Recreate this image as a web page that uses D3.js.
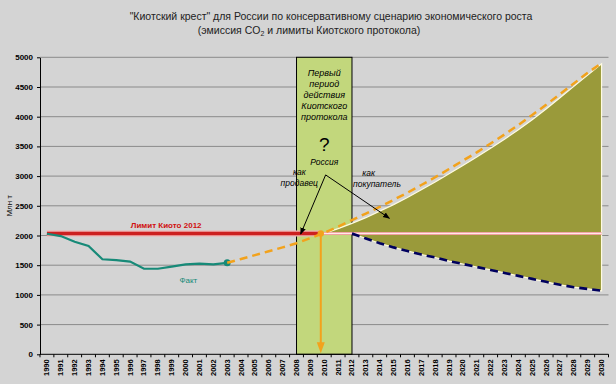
<!DOCTYPE html>
<html><head><meta charset="utf-8">
<script src="https://cdn.jsdelivr.net/npm/d3@7"></script>
<style>
html,body{margin:0;padding:0;background:#d4d4d4;}
svg{display:block;font-family:"Liberation Sans",Arial,sans-serif;}
</style></head>
<body>
<svg id="c" width="616" height="384"></svg>
<script>
// ---- data ----
const years = d3.range(1990, 2031);
const yTicks = [0,500,1000,1500,2000,2500,3000,3500,4000,4500,5000];
const kyotoLimit = 2035;
const limitYearsRed = [1990, 2010];
const limitYearsPink = [2010, 2030];
const factYears = [1990,1991,1992,1993,1994,1995,1996,1997,1998,1999,2000,2001,2002,2003];
const factValues = [2030,1990,1895,1825,1600,1585,1560,1440,1440,1475,1515,1525,1515,1540];
const trendYears = [2003,2004,2005,2006,2007,2008,2009,2010,2011,2012,2013,2014,2015,2016,2017,2018,2019,2020,2021,2022,2023,2024,2025,2026,2027,2028,2029,2030];
const trendValues = [1540,1605,1670,1735,1800,1870,1955,2045,2150,2260,2370,2480,2600,2720,2850,2980,3120,3260,3400,3550,3700,3860,4030,4200,4380,4560,4740,4900];
const fillYears = [2010,2011,2012,2013,2014,2015,2016,2017,2018,2019,2020,2021,2022,2023,2024,2025,2026,2027,2028,2029,2030];
const fillUpper = [2035,2115,2205,2300,2410,2520,2640,2770,2900,3040,3180,3320,3470,3620,3780,3950,4130,4320,4510,4700,4890];
const fillLower = [2035,2035,2035,1950,1870,1800,1740,1680,1630,1570,1520,1470,1420,1370,1320,1270,1220,1170,1130,1100,1070];
const lowYears = [2012,2013,2014,2015,2016,2017,2018,2019,2020,2021,2022,2023,2024,2025,2026,2027,2028,2029,2030];
const lowValues = [2035,1950,1870,1800,1740,1680,1630,1570,1520,1470,1420,1370,1320,1270,1220,1170,1130,1100,1070];
const periodYears = [2008, 2012];
const periodLabel = ["Первый","период","действия","Киотского","протокола"];
const titleLine1 = "\"Киотский крест\" для России по консервативному сценарию экономического роста";
const annotOrigin = [2010.1, 3020];
const sellerTarget = [2008.3, 2025];
const buyerTarget = [2014.7, 2290];
const crossPoint = [2009.75, 2035];

// ---- layout ----
const svg = d3.select("#c");
const L = 40, R = 608.5, T = 57.3, B = 354.3;
const x = d3.scaleBand().domain(years).range([L, R]).padding(0);
const bw = x.bandwidth();
const xl = d3.scaleLinear().domain([1990, 2030]).range([x(1990) + bw/2, x(2030) + bw/2]);
const y = d3.scaleLinear().domain([0, 5000]).range([B, T]);
const cx = d => x(d) + bw/2;

// title
const title = svg.append("g").attr("fill", "#222").attr("font-size", 10.5).attr("text-anchor", "middle");
title.append("text").attr("x", 331).attr("y", 20).text(titleLine1);
const t2 = title.append("text").attr("x", 309).attr("y", 34);
t2.append("tspan").text("(эмиссия CO");
t2.append("tspan").attr("font-size", 7).attr("dy", 2).text("2");
t2.append("tspan").attr("dy", -2).text(" и лимиты Киотского протокола)");

// gridlines
svg.append("g").selectAll("line").data(yTicks.filter(d => d > 0)).join("line")
  .attr("x1", L).attr("x2", R).attr("y1", d => y(d)).attr("y2", d => y(d))
  .attr("stroke", "#8a8a8a").attr("stroke-width", 1);

// period box
svg.append("rect")
  .attr("x", cx(periodYears[0])).attr("y", T)
  .attr("width", cx(periodYears[1]) - cx(periodYears[0])).attr("height", B - T)
  .attr("fill", "#c2d77c").attr("stroke", "#000").attr("stroke-width", 1);

// filled area
const area = d3.area().x((d, i) => cx(fillYears[i])).y0((d, i) => y(fillLower[i])).y1(d => y(d));
svg.append("path").datum(fillUpper).attr("d", area)
  .attr("fill", "#9a9a3a").attr("stroke", "#fffbe0").attr("stroke-width", 1.2);

// limit line
svg.append("line").attr("x1", cx(limitYearsRed[0])).attr("x2", xl(crossPoint[0]))
  .attr("y1", y(kyotoLimit)).attr("y2", y(kyotoLimit))
  .attr("stroke", "#f2b0b0").attr("stroke-width", 6);
svg.append("line").attr("x1", cx(limitYearsRed[0])).attr("x2", xl(crossPoint[0]))
  .attr("y1", y(kyotoLimit)).attr("y2", y(kyotoLimit))
  .attr("stroke", "#cc2020").attr("stroke-width", 3.5);
svg.append("line").attr("x1", xl(crossPoint[0])).attr("x2", cx(limitYearsPink[1]))
  .attr("y1", y(kyotoLimit)).attr("y2", y(kyotoLimit))
  .attr("stroke", "#f0a0a0").attr("stroke-width", 3);
svg.append("line").attr("x1", xl(crossPoint[0])).attr("x2", cx(limitYearsPink[1]))
  .attr("y1", y(kyotoLimit)).attr("y2", y(kyotoLimit))
  .attr("stroke", "#fff0f0").attr("stroke-width", 1);

// fact line
const line = d3.line();
svg.append("path").attr("d", line(factYears.map((yr, i) => [cx(yr), y(factValues[i])])))
  .attr("fill", "none").attr("stroke", "#178a78").attr("stroke-width", 2.2);
svg.append("circle").attr("cx", cx(2003)).attr("cy", y(factValues[factValues.length-1])).attr("r", 3.5).attr("fill", "#178a78");

// trend (orange dashed)
svg.append("path").attr("d", line(trendYears.map((yr, i) => [cx(yr), y(trendValues[i])])))
  .attr("fill", "none").attr("stroke", "#f2a21c").attr("stroke-width", 2.5).attr("stroke-dasharray", "8,5");

// low scenario (navy dashed)
svg.append("path").attr("d", line(lowYears.map((yr, i) => [cx(yr), y(lowValues[i])])))
  .attr("fill", "none").attr("stroke", "#00005e").attr("stroke-width", 2.6).attr("stroke-dasharray", "8,5");

// orange vertical arrow
const ox = xl(crossPoint[0]);
svg.append("line").attr("x1", ox).attr("x2", ox).attr("y1", y(kyotoLimit)).attr("y2", B - 8)
  .attr("stroke", "#f2a21c").attr("stroke-width", 2);
svg.append("path").attr("d", `M${ox-4},${B-12}L${ox+4},${B-12}L${ox},${B-1}Z`).attr("fill", "#f2a21c");
svg.append("circle").attr("cx", ox).attr("cy", y(kyotoLimit)).attr("r", 3.2).attr("fill", "#f2a21c");

// axes
const yAxis = svg.append("g").attr("transform", `translate(${L},0)`)
  .call(d3.axisLeft(y).tickValues(yTicks).tickSize(3).tickSizeOuter(0).tickFormat(d3.format("d")));
yAxis.select(".domain").attr("stroke", "#000");
yAxis.selectAll("text").attr("font-size", 8).attr("fill", "#000").attr("font-weight", "bold").attr("dx", -1);
yAxis.selectAll("line").attr("stroke", "#000");

const xAxis = svg.append("g");
xAxis.append("line").attr("x1", L).attr("x2", R).attr("y1", B).attr("y2", B).attr("stroke", "#000");
xAxis.selectAll("line.tk").data(years.concat([null])).join("line").attr("class", "tk")
  .attr("x1", d => d === null ? R : x(d)).attr("x2", d => d === null ? R : x(d))
  .attr("y1", B).attr("y2", B + 3).attr("stroke", "#000");
xAxis.selectAll("text").data(years).join("text")
  .attr("transform", d => `translate(${cx(d) + 2.5},${B + 5}) rotate(-90)`)
  .attr("text-anchor", "end").attr("font-size", 7.5).attr("font-weight", "bold").attr("fill", "#000")
  .text(d => d);

// y axis title
svg.append("text").attr("transform", `translate(12,${y(2500)}) rotate(-90)`)
  .attr("text-anchor", "middle").attr("font-size", 8).attr("fill", "#000").text("Млн т");

// labels
svg.append("text").attr("x", xl(1998.6)).attr("y", y(kyotoLimit) - 5)
  .attr("text-anchor", "middle").attr("font-size", 8).attr("font-weight", "bold").attr("fill", "#d01010")
  .text("Лимит Киото 2012");
svg.append("text").attr("x", xl(2000.2)).attr("y", y(1200))
  .attr("text-anchor", "middle").attr("font-size", 8).attr("fill", "#178a78").text("Факт");

// period label
const pl = svg.append("g").attr("font-size", 9).attr("font-style", "italic").attr("fill", "#000").attr("text-anchor", "middle");
periodLabel.forEach((s, i) => {
  pl.append("text").attr("x", (cx(periodYears[0]) + cx(periodYears[1])) / 2).attr("y", 75.5 + i * 11).text(s);
});
pl.append("text").attr("x", xl(2010)).attr("y", y(3420)).attr("font-size", 19).attr("font-style", "normal").text("?");
pl.append("text").attr("x", xl(2010)).attr("y", y(3190)).attr("font-size", 8.5).text("Россия");

const an = svg.append("g").attr("font-size", 8.5).attr("font-style", "italic").attr("fill", "#000").attr("text-anchor", "middle");
an.append("text").attr("x", xl(2008.2)).attr("y", y(3020)).text("как");
an.append("text").attr("x", xl(2008.2)).attr("y", y(2840)).text("продавец");
an.append("text").attr("x", xl(2013.2)).attr("y", y(3010)).text("как");
an.append("text").attr("x", xl(2013.8)).attr("y", y(2820)).text("покупатель");

// annotation arrows
svg.append("defs").append("marker").attr("id", "ah").attr("viewBox", "0 0 10 10")
  .attr("refX", 9).attr("refY", 5).attr("markerWidth", 7).attr("markerHeight", 7).attr("orient", "auto")
  .append("path").attr("d", "M0,1L10,5L0,9Z").attr("fill", "#000");
[sellerTarget, buyerTarget].forEach(t => {
  svg.append("line")
    .attr("x1", xl(annotOrigin[0])).attr("y1", y(annotOrigin[1]))
    .attr("x2", xl(t[0])).attr("y2", y(t[1]))
    .attr("stroke", "#000").attr("stroke-width", 1).attr("marker-end", "url(#ah)");
});
</script>
</body></html>
